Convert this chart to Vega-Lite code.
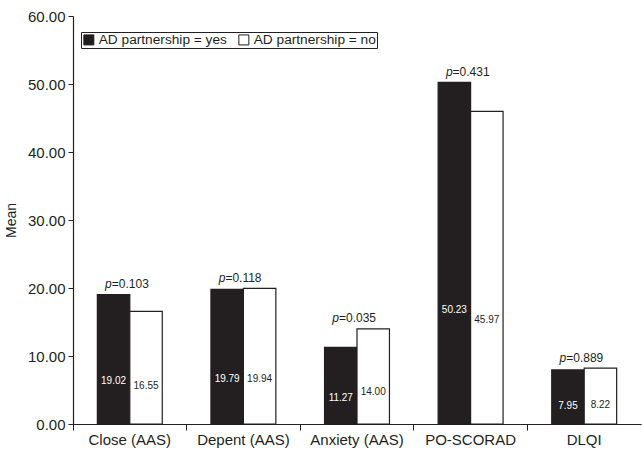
{
  "$schema": "https://vega.github.io/schema/vega-lite/v6.json",
  "autosize": "none",
  "width": 568,
  "height": 408,
  "padding": {"left": 73, "top": 16, "right": 1, "bottom": 26},
  "background": "white",
  "config": {
    "font": "Liberation Sans",
    "view": {"stroke": null},
    "axis": {"labelFont": "Liberation Sans", "titleFont": "Liberation Sans", "labelColor": "#231f20", "titleColor": "#231f20", "domainColor": "#231f20", "tickColor": "#231f20", "grid": false}
  },
  "data": {
    "values": [
      {"measure": "Close (AAS)", "group": "AD partnership = yes", "value": 19.02, "p": "=0.103"},
      {"measure": "Close (AAS)", "group": "AD partnership = no", "value": 16.55, "p": "=0.103"},
      {"measure": "Depent (AAS)", "group": "AD partnership = yes", "value": 19.79, "p": "=0.118"},
      {"measure": "Depent (AAS)", "group": "AD partnership = no", "value": 19.94, "p": "=0.118"},
      {"measure": "Anxiety (AAS)", "group": "AD partnership = yes", "value": 11.27, "p": "=0.035"},
      {"measure": "Anxiety (AAS)", "group": "AD partnership = no", "value": 14.00, "p": "=0.035"},
      {"measure": "PO-SCORAD", "group": "AD partnership = yes", "value": 50.23, "p": "=0.431"},
      {"measure": "PO-SCORAD", "group": "AD partnership = no", "value": 45.97, "p": "=0.431"},
      {"measure": "DLQI", "group": "AD partnership = yes", "value": 7.95, "p": "=0.889"},
      {"measure": "DLQI", "group": "AD partnership = no", "value": 8.22, "p": "=0.889"}
    ]
  },
  "encoding": {
    "x": {
      "field": "measure", "type": "nominal", "sort": null,
      "scale": {"paddingInner": 0, "paddingOuter": 0},
      "axis": {"title": null, "labelAngle": 0, "labelFontSize": 15, "bandPosition": 0, "tickSize": 6, "labelPadding": 2, "domainWidth": 1.2}
    }
  },
  "layer": [
    {
      "mark": {"type": "bar", "stroke": "#231f20", "strokeWidth": 1.2},
      "encoding": {
        "xOffset": {"field": "group", "type": "nominal", "sort": ["AD partnership = yes", "AD partnership = no"], "scale": {"paddingInner": 0, "paddingOuter": 0.75}},
        "y": {
          "field": "value", "type": "quantitative",
          "scale": {"domain": [0, 60], "nice": false},
          "axis": {"title": "Mean", "format": ".2f", "values": [0, 10, 20, 30, 40, 50, 60], "labelFontSize": 15, "titleFontSize": 14, "titleFontWeight": "normal", "tickSize": 5, "labelPadding": 3, "titlePadding": 9, "domainWidth": 1.2}
        },
        "fill": {
          "field": "group", "type": "nominal",
          "sort": ["AD partnership = yes", "AD partnership = no"],
          "scale": {"domain": ["AD partnership = yes", "AD partnership = no"], "range": ["#231f20", "#ffffff"]},
          "legend": {
            "title": null, "orient": "none", "legendX": 8, "legendY": 16, "direction": "horizontal",
            "strokeColor": "#231f20", "padding": 1, "symbolType": "square", "symbolSize": 100,
            "symbolStrokeColor": "#231f20", "symbolStrokeWidth": 1, "labelFontSize": 13.7, "labelColor": "#231f20",
            "labelFont": "Liberation Sans", "columnPadding": 9, "labelOffset": 3
          }
        }
      }
    },
    {
      "transform": [{"calculate": "datum.value / 3", "as": "labelPos"}],
      "mark": {"type": "text", "fontSize": 10, "baseline": "middle"},
      "encoding": {
        "xOffset": {"field": "group", "type": "nominal", "sort": ["AD partnership = yes", "AD partnership = no"]},
        "y": {"field": "labelPos", "type": "quantitative"},
        "text": {"field": "value", "type": "quantitative", "format": ".2f"},
        "color": {"condition": {"test": "datum.group === 'AD partnership = yes'", "value": "#ffffff"}, "value": "#231f20"}
      }
    },
    {
      "transform": [{"aggregate": [{"op": "max", "field": "value", "as": "top"}], "groupby": ["measure", "p"]}],
      "mark": {"type": "text", "fontSize": 12, "fontStyle": "italic", "align": "right", "baseline": "alphabetic", "dx": -18, "dy": -6.5, "color": "#231f20"},
      "encoding": {
        "y": {"field": "top", "type": "quantitative"},
        "text": {"value": "p"}
      }
    },
    {
      "transform": [{"aggregate": [{"op": "max", "field": "value", "as": "top"}], "groupby": ["measure", "p"]}],
      "mark": {"type": "text", "fontSize": 12, "align": "left", "baseline": "alphabetic", "dx": -18, "dy": -6.5, "color": "#231f20"},
      "encoding": {
        "y": {"field": "top", "type": "quantitative"},
        "text": {"field": "p", "type": "nominal"}
      }
    }
  ]
}
